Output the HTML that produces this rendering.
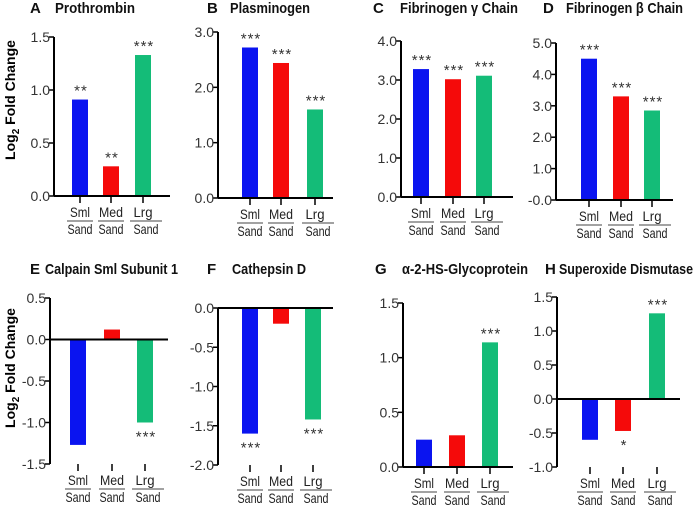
<!DOCTYPE html>
<html><head><meta charset="utf-8">
<style>
html,body{margin:0;padding:0;background:#fff;}
svg{display:block;font-family:"Liberation Sans",Arial,sans-serif;}
.tick{font-size:14px;fill:#333;}
.title{font-size:15px;font-weight:bold;fill:#111;}
.cat{font-size:14px;fill:#222;}
.star{font-size:15px;fill:#333;letter-spacing:1px;}
</style></head>
<body>
<svg id="fig" width="700" height="516" viewBox="0 0 700 516" xmlns="http://www.w3.org/2000/svg">
<text transform="translate(15,100) rotate(-90)" text-anchor="middle" style="font-size:14px;font-weight:bold">Log<tspan dy="4" style="font-size:10px">2</tspan><tspan dy="-4"> Fold Change</tspan></text>
<text transform="translate(15,368) rotate(-90)" text-anchor="middle" style="font-size:14px;font-weight:bold">Log<tspan dy="4" style="font-size:10px">2</tspan><tspan dy="-4"> Fold Change</tspan></text>
</svg>
<script>
const categories = ["Sml","Med","Lrg"];
const titles = ["Prothrombin","Plasminogen","Fibrinogen \u03b3  Chain","Fibrinogen \u03b2 Chain","Calpain Sml Subunit 1","Cathepsin D","\u03b1-2-HS-Glycoprotein","Superoxide Dismutase"];
const letters = ["A","B","C","D","E","F","G","H"];
const valuesA = [0.91,0.28,1.33];
const valuesB = [2.72,2.44,1.60];
const valuesC = [3.28,3.02,3.11];
const valuesD = [4.50,3.30,2.85];
const valuesE = [-1.27,0.12,-1.00];
const valuesF = [-1.60,-0.20,-1.42];
const valuesG = [0.25,0.29,1.14];
const valuesH = [-0.60,-0.47,1.26];
const starsA = ["**","**","***"];
const starsB = ["***","***","***"];
const starsC = ["***","***","***"];
const starsD = ["***","***","***"];
const starsE = ["","","***"];
const starsF = ["***","","***"];
const starsG = ["","","***"];
const starsH = ["","*","***"];
const ticksA = [0,0.5,1.0,1.5];
const ticksB = [0,1,2,3];
const ticksC = [0,1,2,3,4];
const ticksD = [0,1,2,3,4,5];
const ticksE = [-1.5,-1.0,-0.5,0,0.5];
const ticksF = [-2.0,-1.5,-1.0,-0.5,0];
const ticksG = [0,0.5,1.0,1.5];
const ticksH = [-1.0,-0.5,0,0.5,1.0,1.5];

const colors = ["#0a14f0","#f50a0a","#14bc78"];
const catWidths = [20,24,19];
const layout = [
 {ax:54, end:170, y0:196, y1:37, bars:[80,111,143], lx:30, tx:55, tw:80, ty:13},
 {ax:218,end:333, y0:198, y1:32, bars:[250,281,315], lx:207,tx:230,tw:80, ty:13},
 {ax:401,end:513, y0:197, y1:41, bars:[421,453,484], lx:373,tx:400,tw:118,ty:13},
 {ax:556,end:673, y0:200, y1:43, bars:[589,621,652], lx:543,tx:566,tw:117,ty:13, negzero:true},
 {ax:50, end:168, y0:464, y1:298, bars:[78,112,145], lx:30, tx:45, tw:133,ty:274},
 {ax:218,end:333, y0:465, y1:308, bars:[250,281,313], lx:207,tx:232,tw:74, ty:274},
 {ax:403,end:513, y0:467, y1:303, bars:[424,457,490], lx:375,tx:402,tw:126,ty:274},
 {ax:557,end:680, y0:467, y1:297, bars:[590,623,657], lx:545,tx:559,tw:134,ty:274}
];
const allValues=[valuesA,valuesB,valuesC,valuesD,valuesE,valuesF,valuesG,valuesH];
const allStars=[starsA,starsB,starsC,starsD,starsE,starsF,starsG,starsH];
const allTicks=[ticksA,ticksB,ticksC,ticksD,ticksE,ticksF,ticksG,ticksH];
const NS="http://www.w3.org/2000/svg";
const svg=document.getElementById('fig');
function mk(tag,attrs,parent){const e=document.createElementNS(NS,tag);for(const k in attrs)e.setAttribute(k,attrs[k]);(parent||svg).appendChild(e);return e;}
for(let p=0;p<8;p++){
  const L=layout[p],vals=allValues[p],st=allStars[p],tk=allTicks[p];
  const mn=tk[0],mx=tk[tk.length-1];
  const y=v=>L.y0+(v-mn)/(mx-mn)*(L.y1-L.y0);
  const g=mk('g',{});
  
  
  let t=mk('text',{x:L.lx,y:L.ty,class:'title'},g);t.textContent=letters[p];
  
  
  t=mk('text',{x:L.tx,y:L.ty,class:'title',textLength:L.tw,lengthAdjust:'spacingAndGlyphs'},g);t.textContent=titles[p];
  
  
  const zy=y(0);
  for(let i=0;i<3;i++){
    const v=vals[i],cx=L.bars[i],w=16;
    const r=mk('rect',{x:cx-w/2,y:Math.min(y(v),zy),width:w,height:Math.abs(y(v)-zy),fill:colors[i]},g);
    
    
    if(st[i]){
      const sy=v>=0? y(v)-4 : y(v)+19;
      const s=mk('text',{x:cx+1,y:sy,'text-anchor':'middle',class:'star'},g);s.textContent=st[i];
      
      
    }
  }
  const ya=mk('line',{x1:L.ax,x2:L.ax,y1:y(mx),y2:L.y0,stroke:'#000','stroke-width':2},g);
  
  
  for(const v of tk){
    mk('line',{x1:L.ax-5,x2:L.ax,y1:y(v),y2:y(v),stroke:'#000','stroke-width':1.5},g);
    const lbl=mk('text',{x:L.ax-4,y:y(v)+5,'text-anchor':'end',class:'tick'},g);
    lbl.textContent=(v===0&&L.negzero?'-':'')+v.toFixed(1);
    
    
  }
  const xa=mk('line',{x1:L.ax,x2:L.end,y1:zy,y2:zy,stroke:'#000','stroke-width':2},g);
  
  
  for(let i=0;i<3;i++){
    const cx=L.bars[i];
    mk('line',{x1:cx,x2:cx,y1:L.y0,y2:L.y0+7,stroke:'#000','stroke-width':1.5},g);
    const c1=mk('text',{x:cx,y:L.y0+21,'text-anchor':'middle',class:'cat',textLength:catWidths[i],lengthAdjust:'spacingAndGlyphs'},g);c1.textContent=categories[i];
    
    
    const ext=i===2?6:0;
    mk('line',{x1:cx-13,x2:cx+13+ext,y1:L.y0+25,y2:L.y0+25,stroke:'#444','stroke-width':1},g);
    const c2=mk('text',{x:cx+(i===2?3:0),y:L.y0+38,'text-anchor':'middle',class:'cat',textLength:25,lengthAdjust:'spacingAndGlyphs'},g);c2.textContent='Sand';
    
    
  }
}
</script>
</body></html>
